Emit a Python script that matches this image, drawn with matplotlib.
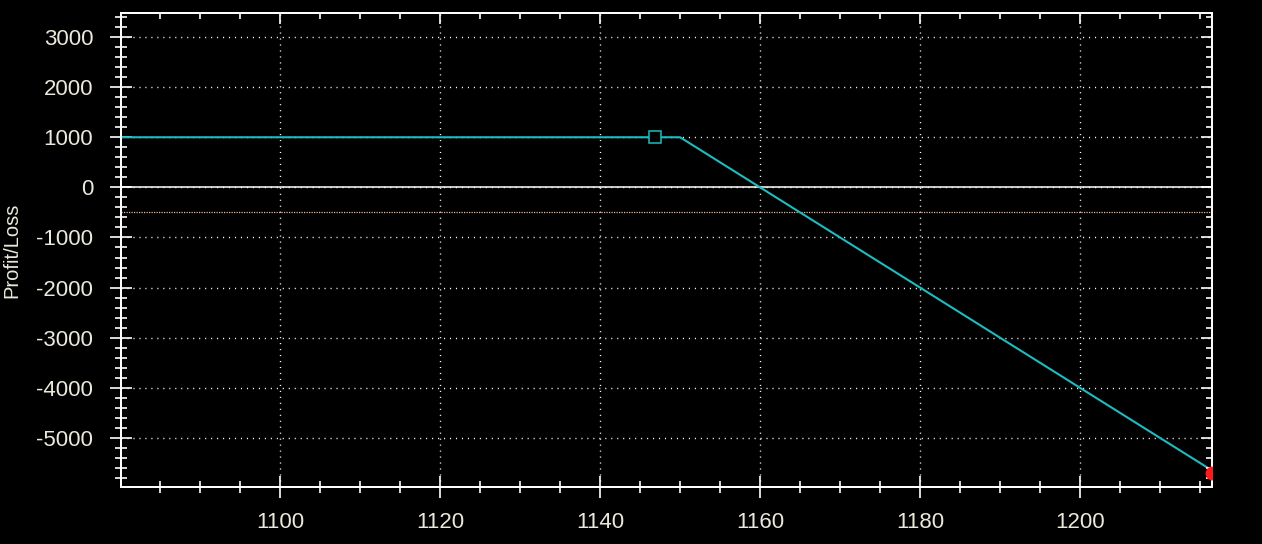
import matplotlib
matplotlib.use("Agg")
import matplotlib.pyplot as plt
from matplotlib.ticker import MultipleLocator

plt.rcParams['font.family'] = ['Liberation Sans', 'DejaVu Sans']
plt.rcParams['axes.unicode_minus'] = False

# Data
price = [1080.0, 1150.0, 1216.5]
pnl = [1000, 1000, -5650]
marker_x = [1146.9]
marker_y = [1000]
end_x = [1216.5]
end_y = [-5700]
ref_level = -500
xlim = (1080.1, 1216.5)
ylim = (-5980, 3480)

txt = "#ebe9dc"
cyan = "#1cbcc0"
fig = plt.figure(figsize=(12.62, 5.44), dpi=100, facecolor="black")
ax = fig.add_axes([121/1262, 1-487/544, (1212-121)/1262, (487-13)/544], facecolor="black")

ax.set_xlim(*xlim)
ax.set_ylim(*ylim)

ax.xaxis.set_major_locator(MultipleLocator(20))
ax.xaxis.set_minor_locator(MultipleLocator(5))
ax.yaxis.set_major_locator(MultipleLocator(1000))
ax.yaxis.set_minor_locator(MultipleLocator(200))

ax.grid(True, which="major", color="white", linestyle=(0, (0.8, 3.5)), linewidth=1.0)
ax.axhline(0, color="white", linewidth=1.1, zorder=2)
ax.axhline(ref_level, color="#e0b898", linestyle=(0, (1, 1)), linewidth=0.9, zorder=2)

ax.plot(price, pnl, color=cyan, linewidth=1.5, zorder=3)
ax.plot(marker_x, marker_y, marker="s", markersize=9, markerfacecolor="black",
        markeredgecolor=cyan, markeredgewidth=1.1, linestyle="none", zorder=4)

for s in ax.spines.values():
    s.set_color("white")
    s.set_linewidth(1.2)

ax.tick_params(which="major", direction="inout", length=16, width=1.2, color="white",
               labelcolor=txt, labelsize=16)
ax.tick_params(which="minor", direction="inout", length=9, width=1.2, color="white")
ax.tick_params(axis="x", pad=10)
ax.tick_params(axis="y", pad=12)

# top/right ticks pointing inward
axr = ax.twinx()
axr.set_ylim(*ylim)
axr.yaxis.set_major_locator(MultipleLocator(1000))
axr.yaxis.set_minor_locator(MultipleLocator(200))
axr.tick_params(which="major", direction="in", length=8, width=1.2, color="white", labelright=False)
axr.tick_params(which="minor", direction="in", length=4, width=1.2, color="white")
axt = ax.twiny()
axt.set_xlim(*xlim)
axt.xaxis.set_major_locator(MultipleLocator(20))
axt.xaxis.set_minor_locator(MultipleLocator(5))
axt.tick_params(which="major", direction="in", length=8, width=1.2, color="white", labeltop=False)
axt.tick_params(which="minor", direction="in", length=4, width=1.2, color="white")
for a in (axr, axt):
    a.patch.set_visible(False)
    for s in a.spines.values():
        s.set_color("white")
        s.set_linewidth(1.2)

axt.plot(end_x, end_y, marker="o", markersize=9, color="#ff1a1a", linestyle="none",
         zorder=5, clip_on=True)
axt.set_xlim(*xlim)

fig.text(12/1262, 1-250/544, "Profit/Loss", rotation=90, color=txt, fontsize=14.5,
         ha="center", va="center")

fig.savefig("out.png", dpi=100, facecolor="black")
